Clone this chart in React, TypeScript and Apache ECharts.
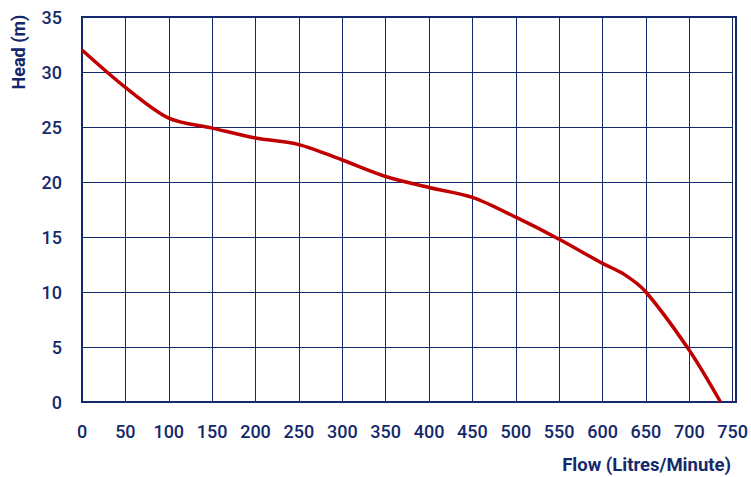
import React, { useEffect, useRef } from "react";
import * as echarts from "echarts";

const flow = [0, 50, 100, 150, 200, 250, 300, 350, 400, 450, 500, 550, 600, 625, 650, 700, 736];
const head = [32, 28.6, 25.8, 24.9, 24.0, 23.4, 22.0, 20.5, 19.5, 18.6, 16.8, 14.8, 12.6, 11.6, 10.0, 4.7, 0];
const xTitle = "Flow (Litres/Minute)";
const yTitle = "Head (m)";

const NAVY = "#14296b";
const RED = "#c00000";
const FONT = "Roboto, 'Noto Sans', sans-serif";

export default function App() {
  const ref = useRef<HTMLDivElement>(null);
  useEffect(() => {
    if (!ref.current) return;
    const chart = echarts.init(ref.current, undefined, { renderer: "svg" });
    chart.setOption({
      animation: false,
      grid: { left: 82, top: 17, right: 15, bottom: 75, containLabel: false },
      xAxis: {
        type: "value",
        min: 0,
        max: 750,
        interval: 50,
        axisLine: { show: true, lineStyle: { color: NAVY, width: 2 } },
        axisTick: { show: false },
        axisLabel: { color: NAVY, fontSize: 18, fontFamily: FONT, fontWeight: 500, margin: 20 },
        splitLine: { show: true, lineStyle: { color: NAVY, width: 1 } },
      },
      yAxis: {
        type: "value",
        min: 0,
        max: 35,
        interval: 5,
        axisLine: { show: true, lineStyle: { color: NAVY, width: 2 } },
        axisTick: { show: false },
        axisLabel: { color: NAVY, fontSize: 18, fontFamily: FONT, fontWeight: 500, margin: 20 },
        splitLine: { show: true, lineStyle: { color: NAVY, width: 1 } },
      },
      graphic: [
        {
          type: "rect",
          shape: { x: 82, y: 17, width: 654, height: 385 },
          style: { fill: "none", stroke: NAVY, lineWidth: 2 },
          silent: true,
          z: 10,
        },
        {
          type: "text",
          x: 731,
          y: 465,
          style: {
            text: xTitle,
            fill: NAVY,
            font: `bold 18.5px ${FONT}`,
            textAlign: "right",
            textVerticalAlign: "middle",
          },
        },
        {
          type: "text",
          x: 18,
          y: 52,
          rotation: Math.PI / 2,
          style: {
            text: yTitle,
            fill: NAVY,
            font: `bold 18px ${FONT}`,
            textAlign: "center",
            textVerticalAlign: "middle",
          },
        },
      ],
      series: [
        {
          type: "line",
          data: flow.map((f, i) => [f, head[i]]),
          smooth: 0.3,
          showSymbol: false,
          lineStyle: { color: RED, width: 3.5 },
          z: 20,
        },
      ],
    });
    return () => chart.dispose();
  }, []);
  return (
    <div
      ref={ref}
      style={{ position: "fixed", left: 0, top: 0, width: 751, height: 477, background: "#fff" }}
    />
  );
}
